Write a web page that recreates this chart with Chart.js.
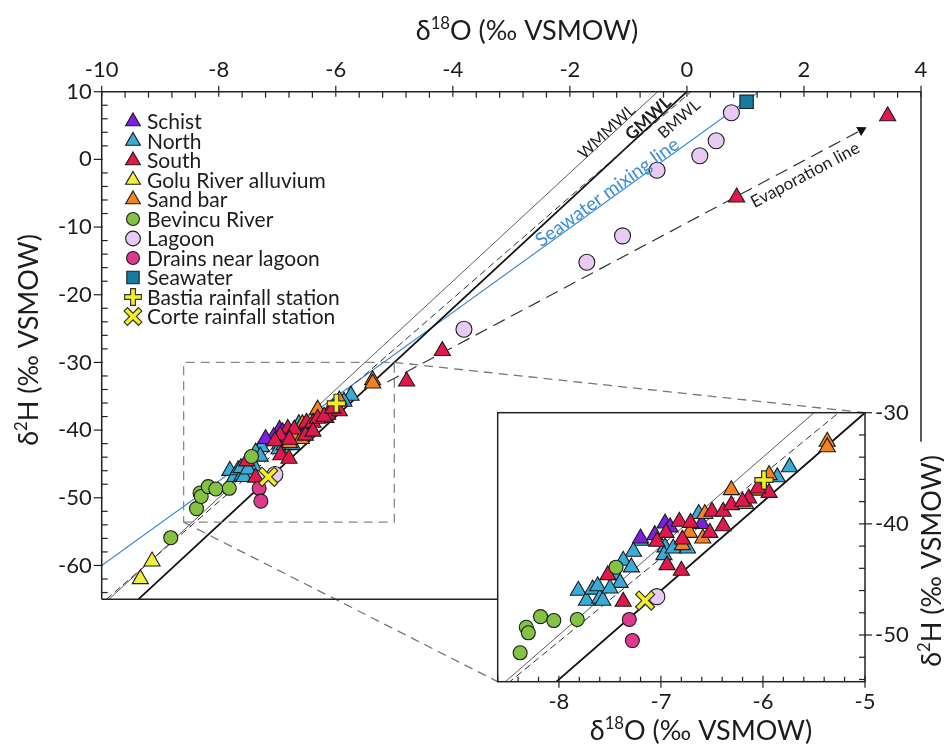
<!DOCTYPE html>
<html lang="en">
<head>
<meta charset="UTF-8">
<title>δ18O vs δ2H</title>
<style>
  html, body { margin: 0; padding: 0; background: #fff; }
  #wrap { position: relative; width: 944px; height: 746px; overflow: hidden; }
  #main { position: absolute; left: 0; top: 0; }
  #inset { position: absolute; left: 480px; top: 390px; }
</style>
<script src="https://cdn.jsdelivr.net/npm/chart.js@4/dist/chart.umd.min.js"></script>
</head>
<body>
<div id="wrap">
  <canvas id="main" width="944" height="746"></canvas>
  <canvas id="inset" width="464" height="356"></canvas>
</div>
<script>
const FONT = 'Lato, "Open Sans", "DejaVu Sans", sans-serif';
const INK = '#1c1c1c';

// δ18O (x) / δ2H (y) in ‰ VSMOW
const schist = [[-6.96, -39.95], [-7.06, -41.0], [-7.20, -41.3], [-6.60, -40.0], [-6.91, -40.3]];
const north = [[-5.74, -34.9], [-5.86, -35.8], [-6.63, -39.1], [-7.20, -41.5], [-7.27, -42.5], [-7.37, -43.3],
  [-7.29, -43.9], [-6.96, -42.1], [-6.97, -42.8], [-6.88, -42.2], [-6.74, -42.2], [-7.81, -46.0], [-7.73, -46.9],
  [-7.67, -45.9], [-7.60, -46.7], [-7.57, -46.9], [-7.45, -44.6], [-7.62, -45.6], [-7.40, -45.3], [-7.50, -45.8]];
const south = [[3.43, 6.4], [0.85, -5.6], [-4.18, -28.3], [-4.79, -32.8], [-6.50, -38.9], [-6.39, -38.9],
  [-6.31, -38.3], [-6.14, -37.7], [-6.20, -38.0], [-5.94, -37.2], [-6.05, -36.8], [-6.82, -39.8], [-6.71, -39.9],
  [-6.95, -40.8], [-7.04, -41.6], [-6.52, -40.8], [-6.39, -40.2], [-6.79, -41.4], [-6.94, -43.7], [-6.80, -44.2],
  [-7.37, -47.0], [-7.52, -44.6]];
const goluRiver = [[-9.14, -59.4], [-9.34, -62.0]];
const sandBar = [[-5.37, -32.6], [-5.37, -33.1], [-6.31, -36.95], [-6.04, -37.0], [-5.94, -35.6], [-6.17, -38.2],
  [-6.72, -40.8], [-6.79, -41.9], [-6.59, -41.3], [-6.57, -39.1]];
const bevincu = [[-8.82, -55.9], [-8.38, -51.6], [-8.32, -49.3], [-8.30, -49.8], [-8.18, -48.35], [-8.05, -48.7],
  [-7.82, -48.6], [-7.44, -43.9]];
const lagoon = [[0.76, 6.9], [0.50, 2.75], [0.22, 0.53], [-0.51, -1.6], [-1.10, -11.3], [-1.71, -15.2],
  [-3.81, -25.1], [-7.04, -46.55]];
const drains = [[-7.31, -48.6], [-7.28, -50.5]];
const seawater = [[1.02, 8.5]];
const bastia = [[-5.99, -36.05]];
const corte = [[-7.155, -46.9]];

// reference lines (end points)
const wmmwl = [[-9.875, -65], [-0.5, 10]];
const gmwl = [[-9.375, -65], [0, 10]];
const bmwl = [[-9.92, -65], [0.07, 10]];
const mixingLine = [[-10, -60], [1.2, 9.8]];
const evapLine = [[-5.12, -32.9], [2.98, 4.33]];
const zoomBox = [[-8.6, -53.6], [-5, -53.6], [-5, -30], [-8.6, -30], [-8.6, -53.6]];

// axes
const mainX = [-10, 4], mainY = [-65, 10];
const insetX = [-8.6, -5], insetY = [-54.2, -30];
const mainXTicks = [-10, -8, -6, -4, -2, 0, 2, 4];
const mainYTicks = [10, 0, -10, -20, -30, -40, -50, -60];
const insetXTicks = [-8, -7, -6, -5];
const insetYTicks = [-30, -40, -50];

const STYLE = {
  schist:   { label: 'Schist', shape: 'triangle', fill: '#7b1fe0', r: 9.3 },
  north:    { label: 'North', shape: 'triangle', fill: '#38acd6', r: 9.3 },
  south:    { label: 'South', shape: 'triangle', fill: '#e2174c', r: 9.3 },
  golu:     { label: 'Golu River alluvium', shape: 'triangle', fill: '#f3ee3c', r: 9.3 },
  sandbar:  { label: 'Sand bar', shape: 'triangle', fill: '#f5821f', r: 9.3 },
  bevincu:  { label: 'Bevincu River', shape: 'circle', fill: '#84c341', r: 7 },
  lagoon:   { label: 'Lagoon', shape: 'circle', fill: '#e7cbf5', r: 8 },
  drains:   { label: 'Drains near lagoon', shape: 'circle', fill: '#de3a8d', r: 7 },
  seawater: { label: 'Seawater', shape: 'rect', fill: '#157c9f', r: 9.5 },
  bastia:   { label: 'Bastia rainfall station', shape: 'cross', fill: '#f5ef22', r: 8.5 },
  corte:    { label: 'Corte rainfall station', shape: 'crossRot', fill: '#f5ef22', r: 10.5 }
};
const LEGEND = ['schist', 'north', 'south', 'golu', 'sandbar', 'bevincu', 'lagoon', 'drains', 'seawater', 'bastia', 'corte'];

const pts = a => a.map(p => ({ x: p[0], y: p[1] }));

function markSet(key, data, k, order) {
  const s = STYLE[key];
  return { label: s.label, data: pts(data), pointStyle: s.shape, pointRadius: s.r * k, pointHoverRadius: s.r * k,
    backgroundColor: s.fill, borderColor: INK, borderWidth: 1.1, order };
}
function crossSets(key, data, k) {
  const s = STYLE[key];
  return [
    { data: pts(data), pointStyle: s.shape, pointRadius: (s.r + 1.2) * k, borderColor: '#333', borderWidth: 6, order: 2 },
    { label: s.label, data: pts(data), pointStyle: s.shape, pointRadius: s.r * k, borderColor: s.fill, borderWidth: 3.6, order: 1 }
  ];
}
function lineSet(data, color, width, dash, order) {
  return { data: pts(data), showLine: true, borderColor: color, borderWidth: width, borderDash: dash || [],
    pointRadius: 0, order: order || 20 };
}
function pointSets(k) {
  return [
    markSet('north', north, k, 9), markSet('schist', schist, k, 8), markSet('sandbar', sandBar, k, 7),
    markSet('south', south, k, 6), markSet('golu', goluRiver, k, 5), markSet('bevincu', bevincu, k, 5),
    markSet('lagoon', lagoon, k, 4), markSet('drains', drains, k, 4), markSet('seawater', seawater, k, 4),
    ...crossSets('corte', corte, k), ...crossSets('bastia', bastia, k)
  ];
}

// ---- drawing helpers ----
function supText(ctx, parts, cx, cy, size, rot) {
  ctx.save();
  ctx.translate(cx, cy);
  ctx.rotate(rot || 0);
  ctx.fillStyle = INK;
  ctx.textBaseline = 'alphabetic';
  ctx.textAlign = 'left';
  const font = p => (p[1] ? size * 0.62 : size) + 'px ' + FONT;
  let w = 0;
  parts.forEach(p => { ctx.font = font(p); w += ctx.measureText(p[0]).width; });
  let x = -w / 2;
  const base = size * 0.36;
  parts.forEach(p => {
    ctx.font = font(p);
    ctx.fillText(p[0], x, p[1] ? base - size * 0.4 : base);
    x += ctx.measureText(p[0]).width;
  });
  ctx.restore();
}
const X_TITLE = [['δ', 0], ['18', 1], ['O (‰ VSMOW)', 0]];
const Y_TITLE = [['δ', 0], ['2', 1], ['H (‰ VSMOW)', 0]];

function seg(ctx, x0, y0, x1, y1) {
  ctx.beginPath(); ctx.moveTo(x0, y0); ctx.lineTo(x1, y1); ctx.stroke();
}
function minorValues(range, step) {
  const out = [];
  for (let v = Math.ceil(range[0] / step - 1e-9) * step; v <= range[1] + 1e-9; v += step) out.push(v);
  return out;
}
const isMajor = (v, list) => list.some(t => Math.abs(t - v) < 1e-6);

function symbol(ctx, key, x, y, k) {
  const s = STYLE[key];
  const draw = (opts, fill, stroke, lw) => {
    ctx.fillStyle = fill; ctx.strokeStyle = stroke; ctx.lineWidth = lw;
    Chart.helpers.drawPoint(ctx, Object.assign({ rotation: 0, borderWidth: lw }, opts), x, y);
  };
  if (s.shape === 'cross' || s.shape === 'crossRot') {
    draw({ pointStyle: s.shape, radius: (s.r + 1.2) * k }, 'rgba(0,0,0,0)', '#333', 6);
    draw({ pointStyle: s.shape, radius: s.r * k }, 'rgba(0,0,0,0)', s.fill, 3.6);
  } else {
    draw({ pointStyle: s.shape, radius: s.r * k }, s.fill, INK, 1.1);
  }
}

// ---- inset chart ----
const insetDeco = {
  id: 'insetDeco',
  beforeDraw(chart) {
    const { ctx, chartArea: a } = chart;
    ctx.save(); ctx.fillStyle = '#fff';
    ctx.fillRect(a.left, a.top, a.right - a.left, a.bottom - a.top);
    ctx.restore();
  },
  afterDatasetsDraw(chart) {
    const { ctx, chartArea: a, scales: { x, y } } = chart;
    ctx.save();
    ctx.strokeStyle = '#222'; ctx.lineWidth = 1.5;
    ctx.strokeRect(a.left, a.top, a.right - a.left, a.bottom - a.top);
    ctx.lineWidth = 1.2;
    minorValues(insetX, 0.2).forEach(v => {
      const px = x.getPixelForValue(v);
      if (isMajor(v, insetXTicks)) seg(ctx, px, a.bottom - 6, px, a.bottom + 6);
      else seg(ctx, px, a.bottom, px, a.bottom - 5);
    });
    minorValues(insetY, 2).forEach(v => {
      const py = y.getPixelForValue(v);
      if (isMajor(v, insetYTicks)) seg(ctx, a.right - 6, py, a.right + 7, py);
      else seg(ctx, a.right, py, a.right - 6, py);
    });
    ctx.fillStyle = INK;
    ctx.font = '22px ' + FONT;
    ctx.textAlign = 'center'; ctx.textBaseline = 'middle';
    insetXTicks.forEach(v => ctx.fillText(String(v), x.getPixelForValue(v), a.bottom + 20));
    ctx.textAlign = 'left';
    insetYTicks.forEach(v => ctx.fillText(String(v), a.right + 10, y.getPixelForValue(v)));
    ctx.restore();
    supText(ctx, X_TITLE, 221, 340, 27, 0);
    supText(ctx, Y_TITLE, 451, 171, 27, -Math.PI / 2);
  }
};

const insetChart = new Chart(document.getElementById('inset'), {
  type: 'scatter',
  data: {
    datasets: [
      lineSet(wmmwl, '#333', 0.8),
      lineSet(bmwl, '#333', 1, [7, 4]),
      lineSet(gmwl, '#111', 1.8),
      ...pointSets(1)
    ]
  },
  options: {
    responsive: false, animation: false, devicePixelRatio: 1,
    layout: { padding: { left: 11.7, top: 22.7, right: 79, bottom: 64.3 } },
    plugins: { legend: { display: false }, tooltip: { enabled: false } },
    scales: {
      x: { type: 'linear', display: false, min: insetX[0], max: insetX[1] },
      y: { type: 'linear', display: false, min: insetY[0], max: insetY[1] }
    }
  },
  plugins: [insetDeco]
});
const INSET_OFFSET = [480, 390];

// ---- main chart ----
const lineLabels = [
  { text: 'WMMWL', at: [-1.37, 4.08], line: wmmwl, font: '16px ', color: INK },
  { text: 'GMWL', at: [-0.66, 6.07], line: gmwl, font: 'bold 17px ', color: INK },
  { text: 'BMWL', at: [-0.13, 5.96], line: bmwl, font: '16px ', color: INK },
  { text: 'Seawater mixing line', at: [-1.36, -4.88], line: mixingLine, font: '19px ', color: '#3b8ed3' },
  { text: 'Evaporation line', at: [2.02, -2.32], line: evapLine, font: '17px ', color: INK }
];

function arrowRotation(c) {
  const { x, y } = c.chart.scales;
  const dx = x.getPixelForValue(evapLine[1][0]) - x.getPixelForValue(evapLine[0][0]);
  const dy = y.getPixelForValue(evapLine[1][1]) - y.getPixelForValue(evapLine[0][1]);
  return Math.atan2(dx, -dy) * 180 / Math.PI;
}

const mainDeco = {
  id: 'mainDeco',
  afterDatasetsDraw(chart) {
    const { ctx, chartArea: a, scales: { x, y } } = chart;
    const ia = insetChart.chartArea;
    const insetLeft = ia.left + INSET_OFFSET[0], insetTop = ia.top + INSET_OFFSET[1];
    ctx.save();
    // zoom connectors
    ctx.strokeStyle = '#777'; ctx.lineWidth = 1.3; ctx.setLineDash([9, 6]);
    seg(ctx, x.getPixelForValue(zoomBox[1][0]), y.getPixelForValue(zoomBox[2][1]), ia.right + INSET_OFFSET[0], insetTop);
    seg(ctx, x.getPixelForValue(zoomBox[0][0]), y.getPixelForValue(zoomBox[0][1]), insetLeft, ia.bottom + INSET_OFFSET[1]);
    ctx.setLineDash([]);
    // frame
    ctx.strokeStyle = '#222'; ctx.lineWidth = 1.5;
    seg(ctx, a.left, a.top, a.right, a.top);
    seg(ctx, a.left, a.top, a.left, a.bottom);
    seg(ctx, a.left, a.bottom, insetLeft, a.bottom);
    seg(ctx, a.right, a.top, a.right, insetTop + 29);
    // ticks
    ctx.lineWidth = 1.2;
    minorValues(mainX, 0.4).forEach(v => {
      const px = x.getPixelForValue(v);
      if (isMajor(v, mainXTicks)) seg(ctx, px, a.top - 6, px, a.top + 5);
      else seg(ctx, px, a.top, px, a.top + 6);
    });
    minorValues(mainY, 2).forEach(v => {
      const py = y.getPixelForValue(v);
      if (isMajor(v, mainYTicks)) seg(ctx, a.left - 8, py, a.left + 1, py);
      else seg(ctx, a.left, py, a.left + 6, py);
    });
    ctx.fillStyle = INK;
    ctx.font = '22px ' + FONT;
    ctx.textAlign = 'center'; ctx.textBaseline = 'middle';
    mainXTicks.forEach(v => ctx.fillText(String(v), x.getPixelForValue(v), a.top - 22));
    ctx.textAlign = 'right';
    mainYTicks.forEach(v => ctx.fillText(String(v), a.left - 10, y.getPixelForValue(v)));
    // line labels
    lineLabels.forEach(l => {
      const x0 = x.getPixelForValue(l.line[0][0]), y0 = y.getPixelForValue(l.line[0][1]);
      const x1 = x.getPixelForValue(l.line[1][0]), y1 = y.getPixelForValue(l.line[1][1]);
      ctx.save();
      ctx.translate(x.getPixelForValue(l.at[0]), y.getPixelForValue(l.at[1]));
      ctx.rotate(Math.atan2(y1 - y0, x1 - x0));
      ctx.font = l.font + FONT; ctx.fillStyle = l.color;
      ctx.textAlign = 'center'; ctx.textBaseline = 'middle';
      ctx.fillText(l.text, 0, 0);
      ctx.restore();
    });
    // legend
    LEGEND.forEach((key, i) => {
      const ly = 121.5 + i * 19.5;
      symbol(ctx, key, 133, ly, 0.92);
      ctx.fillStyle = INK; ctx.font = '21px ' + FONT;
      ctx.textAlign = 'left'; ctx.textBaseline = 'middle';
      ctx.fillText(STYLE[key].label, 147, ly + 1);
    });
    ctx.restore();
    supText(ctx, X_TITLE, 527, 30, 27, 0);
    supText(ctx, Y_TITLE, 28, 340, 27, -Math.PI / 2);
  }
};

const mainChart = new Chart(document.getElementById('main'), {
  type: 'scatter',
  data: {
    datasets: [
      lineSet(wmmwl, '#333', 0.8),
      lineSet(bmwl, '#333', 1, [7, 4]),
      lineSet(gmwl, '#111', 1.8),
      lineSet(mixingLine, '#3b8ed3', 1.1),
      Object.assign(lineSet(evapLine, '#333', 1.2, [13, 7], 18), {
        pointRadius: [0, 6], pointStyle: 'triangle', pointBackgroundColor: '#111', pointBorderWidth: 0,
        pointRotation: arrowRotation
      }),
      lineSet(zoomBox, '#888', 1.3, [9, 6], 19),
      ...pointSets(1)
    ]
  },
  options: {
    responsive: false, animation: false, devicePixelRatio: 1,
    layout: { padding: { left: 101.7, top: 91.7, right: 23, bottom: 146.7 } },
    plugins: { legend: { display: false }, tooltip: { enabled: false } },
    scales: {
      x: { type: 'linear', display: false, min: mainX[0], max: mainX[1] },
      y: { type: 'linear', display: false, min: mainY[0], max: mainY[1] }
    }
  },
  plugins: [mainDeco]
});
</script>
</body>
</html>
